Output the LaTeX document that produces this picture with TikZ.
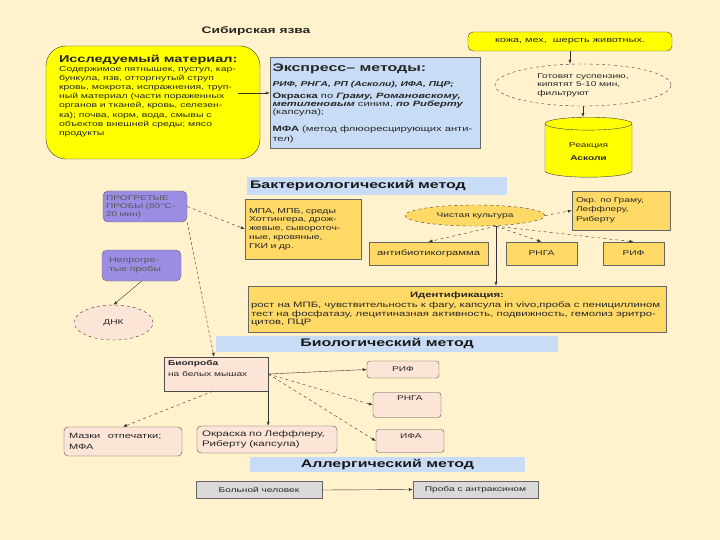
\documentclass[tikz,border=0pt]{standalone}
\usepackage{fontspec}
\setmainfont{Liberation Sans}[FakeStretch=1.45]
\usetikzlibrary{arrows.meta,shapes.geometric}
\definecolor{bgcream}{RGB}{255,242,204}
\definecolor{brightyel}{RGB}{255,255,0}
\definecolor{paleblue}{RGB}{200,220,245}
\definecolor{gold}{RGB}{255,217,102}
\definecolor{lilac}{RGB}{155,140,228}
\definecolor{peach}{RGB}{252,228,214}
\definecolor{greybox}{RGB}{217,217,217}
\newcommand\fs[2]{\fontsize{#1}{#2}\selectfont}
\begin{document}
\begin{tikzpicture}[x=1pt,y=-1pt,
  every node/.style={text=black!85,inner sep=2pt,font=\fs{7}{8.4}},
  yelbox/.style={draw=black!75,fill=brightyel},
  goldbox/.style={draw=black!60,fill=gold},
  lilacbox/.style={draw=black!60,fill=lilac,rounded corners=5pt,text=black!65},
  peachbox/.style={draw=black!70,fill=peach},
  greyrect/.style={draw=black!60,fill=greybox},
  band/.style={fill=paleblue,font=\fs{11}{13}\bfseries,text=black!90},
  oval/.style={ellipse,draw=black!75,dashed},
  arr/.style={draw=black!80,-{Latex[length=4pt,width=3pt]}},
  darr/.style={arr,dashed}]
\useasboundingbox (0,0) rectangle (720,540);
\fill[bgcream] (0,0) rectangle (720,540);
% заголовок
\node[font=\fs{9.5}{11}\bfseries] (title) at (256,31) {Сибирская язва};
% исследуемый материал и экспресс-методы
\node[yelbox,rounded corners=20pt,minimum width=214pt,minimum height=113pt] (mat) at (153,102.5)
  {\parbox[c][95pt][t]{188pt}{\raggedright
   {\fs{10}{12}\textbf{Исследуемый материал:}\par}
   \fs{7.2}{9.1}Содержимое пятнышек, пустул, кар-\\
   бункула, язв, отторгнутый струп\\
   кровь, мокрота, испражнения, труп-\\
   ный материал (части пораженных\\
   органов и тканей, кровь, селезен-\\
   ка); почва, корм, вода, смывы с\\
   объектов внешней среды; мясо\\
   продукты}};
\node[draw=black!60,fill=paleblue,minimum width=210pt,minimum height=91pt] (exp) at (375,102.5)
  {\parbox[c][77pt][t]{205pt}{\raggedright
   {\fs{11}{13}\textbf{Экспресс– методы:}\par}
   \vspace{7pt}
   {\fs{7.1}{8}\textbf{\textit{РИФ, РНГА, РП (Асколи), ИФА, ПЦР;}}\par}
   \vspace{3.7pt}
   {\fs{7.7}{8.2}\textbf{Окраска} по \textbf{\textit{Граму, Романовскому,}}\\
    \textbf{\textit{метиленовым}} синим, \textbf{\textit{по Риберту}}\\
    (капсула);\par}
   \vspace{6.5pt}
   {\fs{7.7}{10}\textbf{МФА} (метод флюоресцирующих анти-\\тел)\par}\vss}};
\draw[arr] ([xshift=-22pt,yshift=9.5pt]mat.east) -- ([yshift=9.5pt]exp.west);
% реакция Асколи
\node[yelbox,rounded corners=5pt,minimum width=204pt,minimum height=19pt,font=\fs{7.5}{9}] (skin) at (570,41.5)
  {кожа, мех,\ \ шерсть животных.};
\node[oval,fill=bgcream,minimum width=176pt,minimum height=42pt,align=left] (susp) at (583,85)
  {Готовят суспензию,\\кипятят 5-10 мин,\\фильтруют};
\node[cylinder,shape border rotate=90,aspect=0.3,draw=black!75,cylinder uses custom fill,
  cylinder body fill=brightyel,cylinder end fill=brightyel,
  minimum width=87pt,minimum height=60pt,align=center] (cyl) at (588.5,151.5)
  {Реакция\\[5pt]\textbf{Асколи}};
\draw[arr] (skin.south) -- (skin.south |- susp.north);
\draw[arr] (susp.south) -- (susp.south |- cyl.north);
% бактериологический метод
\node[band,minimum width=260pt,minimum height=18pt,text width=254pt,align=left] (bact) at (377,186)
  {Бактериологический метод};
\node[lilacbox,minimum width=84pt,minimum height=31pt,text width=78pt,align=left,font=\fs{7}{8}] (hot) at (145,206.5)
  {ПРОГРЕТЫЕ\\ПРОБЫ (80°С-\\20 мин)};
\node[lilacbox,minimum width=79pt,minimum height=31pt,text width=65pt,align=left,font=\fs{7.3}{8.6}] (cold) at (141.5,265.5)
  {Непрогре-\\тые пробы};
\node[oval,fill=peach,minimum width=79pt,minimum height=35pt] (dna) at (113.5,322.5) {ДНК};
\node[goldbox,minimum width=116pt,minimum height=60pt,text width=108pt,align=left,font=\fs{7.2}{8.8}] (mpa) at (303,229)
  {МПА, МПБ, среды\\Хоттингера, дрож-\\жевые, сывороточ-\\ные, кровяные,\\ГКИ и др.};
\node[oval,fill=gold,minimum width=140pt,minimum height=21pt] (pure) at (475,215.5) {Чистая культура};
\node[goldbox,minimum width=98pt,minimum height=39pt,text width=90pt,align=left] (gram) at (621,210.5)
  {Окр. по Граму,\\Леффлеру,\\[2pt]Риберту};
\node[goldbox,minimum width=119pt,minimum height=23pt,font=\fs{7.7}{9}] (abg) at (428.5,253.5) {антибиотикограмма};
\node[goldbox,minimum width=71pt,minimum height=23pt] (rnga) at (541.5,253.5) {РНГА};
\node[goldbox,minimum width=61pt,minimum height=23pt] (rif) at (633.5,253.5) {РИФ};
\node[goldbox,minimum width=418pt,minimum height=46pt,font=\fs{7.8}{8.6}] (ident) at (457,309)
  {\parbox{412pt}{\centering\textbf{Идентификация:}\par\vspace{2pt}\raggedright
   рост на МПБ, чувствительность к фагу, капсула in vivo,проба с пенициллином\\
   тест на фосфатазу, лецитиназная активность, подвижность, гемолиз эритро-\\
   цитов, ПЦР}};
\coordinate (fork) at ([xshift=21pt]pure.south);
\draw[darr] (hot.east) -- (mpa.west);
\draw[arr] (cold.south) -- (dna.north);
\draw[darr] (pure.east) -- (gram.west);
\draw[darr] (fork) -- (abg.north);
\draw[darr] (fork) -- (rnga.north);
\draw[darr] (fork) -- (rif.north);
\draw[arr] (fork) -- (fork |- ident.north);
% биологический метод
\node[band,minimum width=342pt,minimum height=16pt] (biol) at (387,344) {Биологический метод};
\node[peachbox,minimum width=104pt,minimum height=34pt] (bio) at (216,374)
  {\parbox[c][28pt][t]{96pt}{\textbf{Биопроба}\\[3pt]на белых мышах}};
\node[peachbox,rounded corners=3pt,minimum width=72pt,minimum height=17pt] (rif2) at (403,369.5) {РИФ};
\node[peachbox,rounded corners=3pt,minimum width=68pt,minimum height=25pt] (rnga2) at (407,405)
  {\parbox[c][19pt][t]{20pt}{\centering РНГА}};
\node[peachbox,rounded corners=3pt,minimum width=68pt,minimum height=23pt] (ifa) at (410,441)
  {\parbox[c][15pt][t]{20pt}{\centering ИФА}};
\node[peachbox,rounded corners=4pt,minimum width=118pt,minimum height=29pt,text width=108pt,align=left,font=\fs{7.6}{11}] (smear) at (123,441.5)
  {Мазки \ \ отпечатки;\\МФА};
\node[peachbox,rounded corners=4pt,minimum width=140pt,minimum height=27pt,text width=130pt,align=left,font=\fs{8}{10.5}] (stain) at (267,439.5)
  {Окраска по Леффлеру,\\Риберту (капсула)};
\draw[arr,densely dashed] (hot.south east) -- ([xshift=-2pt]bio.north);
\draw[arr] (bio.east) -- (rif2.west);
\draw[darr] (bio.east) -- (rnga2.west);
\draw[darr] (bio.east) -- (ifa.west);
\draw[arr] (bio.south east) -- (bio.south east |- stain.north);
\draw[darr] ([xshift=-3pt]bio.south) -- (smear.north);
% аллергический метод
\node[band,minimum width=275pt,minimum height=15pt] (allerg) at (387.5,464.5) {Аллергический метод};
\node[greyrect,minimum width=126pt,minimum height=17pt] (patient) at (259,490) {Больной человек};
\node[greyrect,minimum width=125pt,minimum height=17pt] (anthr) at (475.5,489.5) {Проба с антраксином};
\draw[arr] (patient.east) -- (anthr.west);
\end{tikzpicture}
\end{document}
